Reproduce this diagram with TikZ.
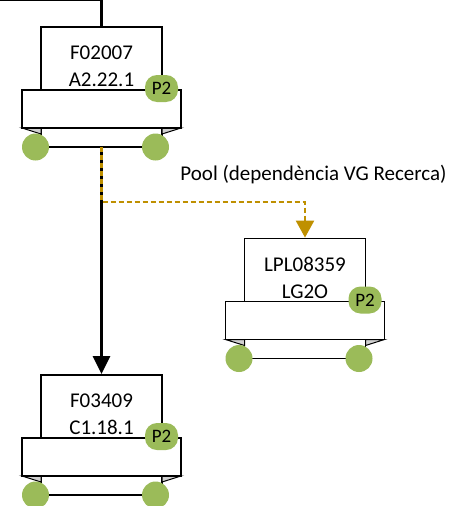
\documentclass[tikz,border=0pt]{standalone}
\usepackage{fontspec}
\setmainfont{Carlito}
\usetikzlibrary{arrows.meta}

\definecolor{padgreen}{HTML}{9BBB59}
\definecolor{poolgold}{HTML}{BF9000}
\definecolor{edgegray}{HTML}{D0D0D0}

% one cart: name, x, y (centre of the upper box), two text lines
\newcommand{\cartunit}[5]{%
  \draw[unitline,fill=white] (#2-60.5,#3+69.5) rectangle (#2+60.5,#3+88.5);
  \filldraw[edgegray,draw=black,line width=1pt] (#2-79.5,#3+69.5) -- (#2-60.5,#3+75.5) -- (#2-60.5,#3+69.5) -- cycle;
  \filldraw[edgegray,draw=black,line width=1pt] (#2+79.5,#3+69.5) -- (#2+60.5,#3+75.5) -- (#2+60.5,#3+69.5) -- cycle;
  \draw[unitline,fill=white] (#2-79.5,#3+31.5) rectangle (#2+79.5,#3+69.5);
  \node[upbox] (#1) at (#2,#3) {};
  \node[boxtext] (#1txt) at (#2,#3+8) {#4\\#5};
  \coordinate (#1base) at (#2,#3+88.5);
  \fill[padgreen] (#2-66,#3+88.5) circle (13.5);
  \fill[padgreen] (#2+54,#3+88.5) circle (13.5);
  \node[badge] (#1pad) at (#2+60,#3+30) {P2};
}

\begin{document}
\begin{tikzpicture}[x=1pt,y=-1pt,
  unitline/.style={draw=black,line width=1.8pt},
  upbox/.style={unitline,fill=white,minimum width=121pt,minimum height=63pt,inner sep=0pt},
  boxtext/.style={align=center,inner sep=0pt,font=\fontsize{21}{27}\selectfont},
  badge/.style={fill=padgreen,rounded corners=12pt,minimum width=33pt,minimum height=27pt,inner sep=0pt,font=\fontsize{19}{20}\selectfont},
  flow/.style={line width=2.6pt,-{Triangle[width=17pt,length=18pt]}},
  pool/.style={poolgold,line width=2.4pt,dash pattern=on 5pt off 3pt,-{Triangle[width=18pt,length=17pt]}}]
  \useasboundingbox (0,0) rectangle (450,506);

  \cartunit{src}{101.5}{58.5}{F02007}{A2.22.1}
  \cartunit{pl}{305}{270}{LPL08359}{LG2O}
  \cartunit{dst}{101.5}{406.5}{F03409}{C1.18.1}

  % feed from above
  \coordinate (feed) at (-5,0);
  \draw[line width=2.6pt] (feed) -| (src.north);

  % links
  \draw[flow] (srcbase) -- (dst.north);
  \draw[pool] (srcbase) -- ++(0,55) -| (pl.north);
  \node[font=\fontsize{21}{24}\selectfont] (poollbl) at (313.5,175) {Pool (dependència VG Recerca)};
\end{tikzpicture}
\end{document}
